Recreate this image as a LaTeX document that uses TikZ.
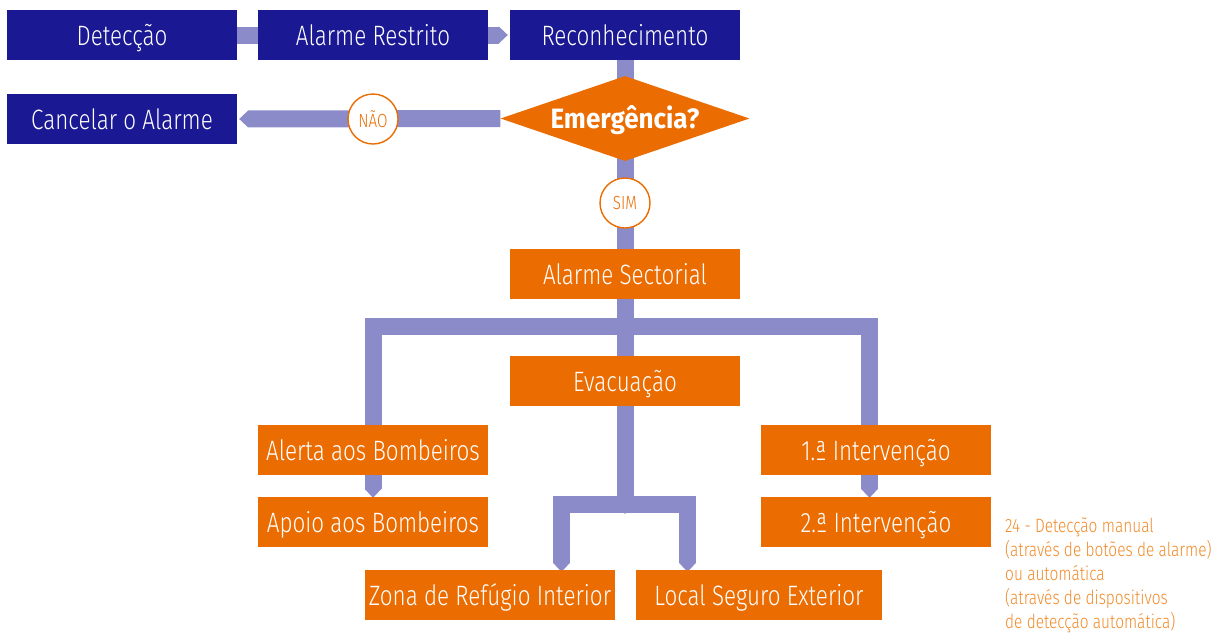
\documentclass[tikz,border=0pt]{standalone}
\usepackage{fontspec}
\setmainfont{Fira Sans Light}[FakeStretch=0.8,BoldFont={Fira Sans Bold}]
\newfontfamily\emfont{Fira Sans Bold}[FakeStretch=0.93]
\usetikzlibrary{shapes.geometric,arrows.meta,backgrounds}
\definecolor{navy}{RGB}{26,24,146}
\definecolor{orng}{RGB}{235,108,0}
\definecolor{lav}{RGB}{139,139,202}
\definecolor{capc}{RGB}{240,138,40}
\begin{document}
\begin{tikzpicture}[x=1pt,y=-1pt,
  box/.style={rectangle,inner sep=0pt,minimum height=50pt,minimum width=230pt,text=white,text height=20pt,text depth=0pt,font=\fontsize{28}{30}\selectfont},
  navybox/.style={box,fill=navy},
  orbox/.style={box,fill=orng},
  band/.style={draw=lav,line width=17pt,line join=miter},
  chev/.style={-{Triangle[length=9pt,width=17pt,line width=0pt]}},
  chevboth/.style={{Triangle[length=9pt,width=17pt,line width=0pt]}-{Triangle[length=9pt,width=17pt,line width=0pt]}},
  answer/.style={circle,draw=orng,line width=1.4pt,fill=white,minimum size=50pt,inner sep=0pt,text=orng,font=\fontsize{19}{20}\selectfont}]
\path[use as bounding box] (0,0) rectangle (1222,633);
% boxes
\node[navybox] (det) at (122,35) {Detecção};
\node[navybox] (restr) at (373,35) {Alarme Restrito};
\node[navybox] (recon) at (625,35) {Reconhecimento};
\node[navybox] (cancel) at (122,119) {Cancelar o Alarme};
\node[diamond,aspect=2.93,fill=orng,minimum width=249pt,minimum height=85pt,inner sep=0pt,text=white,text height=20pt,text depth=0pt,font=\fontsize{28}{30}\emfont] (emer) at (625,118.5) {Emergência?};
\node[answer] (nao) at (373,119) {NÃO};
\node[answer] (sim) at (625,203) {SIM};
\node[orbox] (sect) at (625,274) {Alarme Sectorial};
\node[orbox] (evac) at (625,381) {Evacuação};
\node[orbox] (alerta) at (373,450) {Alerta aos Bombeiros};
\node[orbox] (apoio) at (373,522) {Apoio aos Bombeiros};
\node[orbox] (int1) at (876,450) {1.ª Intervenção};
\node[orbox] (int2) at (876,522) {2.ª Intervenção};
\node[orbox,minimum width=250pt] (zona) at (490,595) {Zona de Refúgio Interior};
\node[orbox,minimum width=246pt] (local) at (759,595) {Local Seguro Exterior};
\node[anchor=north west,align=left,inner sep=0pt,text=capc,font=\fontsize{19.3}{23.8}\selectfont] (cap) at (1005,518) {24 - Detecção manual\\(através de botões de alarme)\\ou automática\\(através de dispositivos\\de detecção automática)};
% helper coordinates
\coordinate (rx) at (869.5,0);
\coordinate (bar) at (0,326.5);
\coordinate (lowbar) at (0,504.5);
\coordinate (zl) at (561.5,0);
\coordinate (zr) at (687.5,0);
\begin{scope}[on background layer]
\draw[band] (det.east) -- (restr.west);
\draw[band,chev] (restr.east) -- ([xshift=-2pt]recon.west);
\draw[band] (recon.south) -- (sect.north);
\draw[band,chev] (emer.west) -- ([xshift=2pt]cancel.east);
\draw[band] (sect.south) -- (evac.north);
\draw[band] (alerta.north) |- (sect.south |- bar) -| (int1.north -| rx);
\draw[band,chev] (alerta.south) -- ([yshift=-1pt]apoio.north);
\draw[band,chev] (int1.south -| rx) -- ([yshift=-1pt]int2.north -| rx);
\draw[band,chev] (evac.south) -- ([yshift=-9.5pt]evac.south |- lowbar);
\draw[band,chevboth] ([yshift=-2pt]zona.north -| zl) |- (evac.south |- lowbar) -| ([yshift=-2pt]local.north -| zr);
\end{scope}
\end{tikzpicture}
\end{document}
